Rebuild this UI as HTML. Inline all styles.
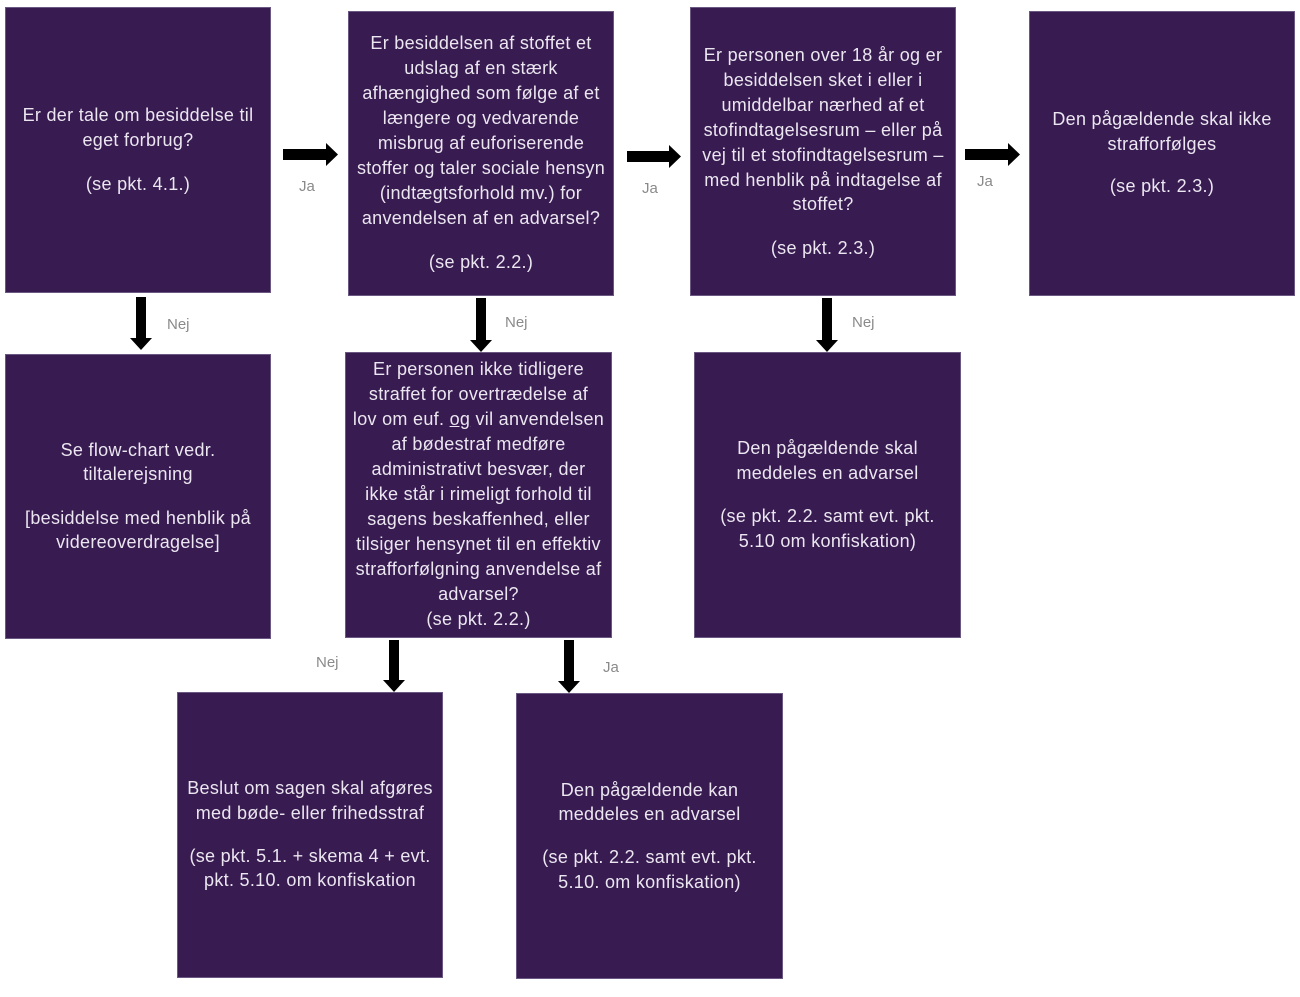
<!DOCTYPE html>
<html>
<head>
<meta charset="utf-8">
<style>
  html, body { margin:0; padding:0; }
  body { width:1300px; height:997px; position:relative; background:#ffffff; overflow:hidden;
         font-family:"Liberation Sans", "DejaVu Sans", sans-serif; }
  .box { position:absolute; background:#371b51; box-sizing:border-box; border:1px solid #6a5882; }
  .t { position:absolute; text-align:center; white-space:nowrap; color:#ebe6f0;
       font-size:18px; line-height:25px; height:25px; letter-spacing:0.3px; }
  .lbl { position:absolute; color:#8a8a8a; font-size:15px; line-height:18px; white-space:nowrap; }
  svg { position:absolute; left:0; top:0; }
</style>
</head>
<body>

<!-- Boxes -->
<div class="box" style="left:5px;top:7px;width:266px;height:286px;"></div>
<div class="box" style="left:348px;top:11px;width:266px;height:285px;"></div>
<div class="box" style="left:690px;top:7px;width:266px;height:289px;"></div>
<div class="box" style="left:1029px;top:11px;width:266px;height:285px;"></div>
<div class="box" style="left:5px;top:354px;width:266px;height:285px;"></div>
<div class="box" style="left:345px;top:352px;width:267px;height:286px;"></div>
<div class="box" style="left:694px;top:352px;width:267px;height:286px;"></div>
<div class="box" style="left:177px;top:692px;width:266px;height:286px;"></div>
<div class="box" style="left:516px;top:693px;width:267px;height:286px;"></div>

<!-- Arrows -->
<svg width="1300" height="997" viewBox="0 0 1300 997">
  <g fill="#000">
    <!-- A -> B -->
    <polygon points="283,149 326,149 326,143 338,154.5 326,166 326,160 283,160"/>
    <!-- B -> C -->
    <polygon points="627,151 669,151 669,145 681,156.5 669,168 669,162 627,162"/>
    <!-- C -> D -->
    <polygon points="965,149 1008,149 1008,143 1020,154.5 1008,166 1008,160 965,160"/>
    <!-- A down -->
    <polygon points="136,297 146,297 146,338 152,338 141,350 130,338 136,338"/>
    <!-- B down -->
    <polygon points="476,298 486,298 486,340 492,340 481,352 470,340 476,340"/>
    <!-- C down -->
    <polygon points="822,298 832,298 832,340 838,340 827,352 816,340 822,340"/>
    <!-- F down left -->
    <polygon points="389,640 399,640 399,680 405,680 394,692 383,680 389,680"/>
    <!-- F down right -->
    <polygon points="564,640 574,640 574,681 580,681 569,693 558,681 564,681"/>
  </g>
</svg>

<!-- Labels -->
<div class="lbl" style="left:299px;top:178px;">Ja</div>
<div class="lbl" style="left:642px;top:180px;">Ja</div>
<div class="lbl" style="left:977px;top:173px;">Ja</div>
<div class="lbl" style="left:167px;top:316px;">Nej</div>
<div class="lbl" style="left:505px;top:314px;">Nej</div>
<div class="lbl" style="left:852px;top:314px;">Nej</div>
<div class="lbl" style="left:316px;top:654px;">Nej</div>
<div class="lbl" style="left:603px;top:659px;">Ja</div>

<!-- Box A text -->
<div class="t" style="left:5px;width:266px;top:103px;">Er der tale om besiddelse til</div>
<div class="t" style="left:5px;width:266px;top:128px;">eget forbrug?</div>
<div class="t" style="left:5px;width:266px;top:172px;">(se pkt. 4.1.)</div>

<!-- Box B text -->
<div class="t" style="left:348px;width:266px;top:31px;">Er besiddelsen af stoffet et</div>
<div class="t" style="left:348px;width:266px;top:56px;">udslag af en stærk</div>
<div class="t" style="left:348px;width:266px;top:81px;">afhængighed som følge af et</div>
<div class="t" style="left:348px;width:266px;top:106px;">længere og vedvarende</div>
<div class="t" style="left:348px;width:266px;top:131px;">misbrug af euforiserende</div>
<div class="t" style="left:348px;width:266px;top:156px;">stoffer og taler sociale hensyn</div>
<div class="t" style="left:348px;width:266px;top:181px;">(indtægtsforhold mv.) for</div>
<div class="t" style="left:348px;width:266px;top:206px;">anvendelsen af en advarsel?</div>
<div class="t" style="left:348px;width:266px;top:250px;">(se pkt. 2.2.)</div>

<!-- Box C text -->
<div class="t" style="left:690px;width:266px;top:43px;">Er personen over 18 år og er</div>
<div class="t" style="left:690px;width:266px;top:68px;">besiddelsen sket i eller i</div>
<div class="t" style="left:690px;width:266px;top:93px;">umiddelbar nærhed af et</div>
<div class="t" style="left:690px;width:266px;top:118px;">stofindtagelsesrum – eller på</div>
<div class="t" style="left:690px;width:266px;top:143px;">vej til et stofindtagelsesrum –</div>
<div class="t" style="left:690px;width:266px;top:168px;">med henblik på indtagelse af</div>
<div class="t" style="left:690px;width:266px;top:192px;">stoffet?</div>
<div class="t" style="left:690px;width:266px;top:236px;">(se pkt. 2.3.)</div>

<!-- Box D text -->
<div class="t" style="left:1029px;width:266px;top:107px;">Den pågældende skal ikke</div>
<div class="t" style="left:1029px;width:266px;top:132px;">strafforfølges</div>
<div class="t" style="left:1029px;width:266px;top:174px;">(se pkt. 2.3.)</div>

<!-- Box E text -->
<div class="t" style="left:5px;width:266px;top:438px;">Se flow-chart vedr.</div>
<div class="t" style="left:5px;width:266px;top:462px;">tiltalerejsning</div>
<div class="t" style="left:5px;width:266px;top:506px;">[besiddelse med henblik på</div>
<div class="t" style="left:5px;width:266px;top:530px;">videreoverdragelse]</div>

<!-- Box F text -->
<div class="t" style="left:345px;width:267px;top:357px;">Er personen ikke tidligere</div>
<div class="t" style="left:345px;width:267px;top:382px;">straffet for overtrædelse af</div>
<div class="t" style="left:345px;width:267px;top:407px;">lov om euf. <u>og</u> vil anvendelsen</div>
<div class="t" style="left:345px;width:267px;top:432px;">af bødestraf medføre</div>
<div class="t" style="left:345px;width:267px;top:457px;">administrativt besvær, der</div>
<div class="t" style="left:345px;width:267px;top:482px;">ikke står i rimeligt forhold til</div>
<div class="t" style="left:345px;width:267px;top:507px;">sagens beskaffenhed, eller</div>
<div class="t" style="left:345px;width:267px;top:532px;">tilsiger hensynet til en effektiv</div>
<div class="t" style="left:345px;width:267px;top:557px;">strafforfølgning anvendelse af</div>
<div class="t" style="left:345px;width:267px;top:582px;">advarsel?</div>
<div class="t" style="left:345px;width:267px;top:607px;">(se pkt. 2.2.)</div>

<!-- Box G text -->
<div class="t" style="left:694px;width:267px;top:436px;">Den pågældende skal</div>
<div class="t" style="left:694px;width:267px;top:461px;">meddeles en advarsel</div>
<div class="t" style="left:694px;width:267px;top:504px;">(se pkt. 2.2. samt evt. pkt.</div>
<div class="t" style="left:694px;width:267px;top:529px;">5.10 om konfiskation)</div>

<!-- Box H text -->
<div class="t" style="left:177px;width:266px;top:776px;">Beslut om sagen skal afgøres</div>
<div class="t" style="left:177px;width:266px;top:801px;">med bøde- eller frihedsstraf</div>
<div class="t" style="left:177px;width:266px;top:844px;">(se pkt. 5.1. + skema 4 + evt.</div>
<div class="t" style="left:177px;width:266px;top:868px;">pkt. 5.10. om konfiskation</div>

<!-- Box I text -->
<div class="t" style="left:516px;width:267px;top:778px;">Den pågældende kan</div>
<div class="t" style="left:516px;width:267px;top:802px;">meddeles en advarsel</div>
<div class="t" style="left:516px;width:267px;top:845px;">(se pkt. 2.2. samt evt. pkt.</div>
<div class="t" style="left:516px;width:267px;top:870px;">5.10. om konfiskation)</div>

</body>
</html>
